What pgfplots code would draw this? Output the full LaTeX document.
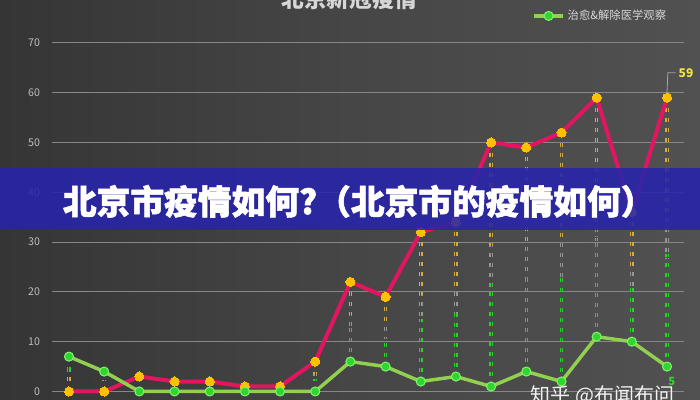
\documentclass[border=0pt]{standalone}
\usepackage{fontspec}
\setmainfont{Noto Sans CJK SC}
\newfontfamily\heavyfont{Noto Sans CJK SC}[BoldFeatures={FakeBold=1.6}]
\usepackage{pgfplots}
\usepackage{pgfplotstable}
\pgfplotsset{compat=1.18}

\definecolor{bgA}{RGB}{36,36,36}
\definecolor{bgB}{RGB}{70,70,70}
\definecolor{bgC}{RGB}{84,84,84}
\definecolor{bgD}{RGB}{56,56,56}
\pgfdeclarehorizontalshading{bgshade}{100bp}{color(0bp)=(bgA); color(50bp)=(bgB); color(82bp)=(bgC); color(100bp)=(bgD)}

\definecolor{newred}{RGB}{226,22,96}
\definecolor{newmark}{RGB}{255,192,0}
\definecolor{curedline}{RGB}{146,208,80}
\definecolor{curedmark}{RGB}{46,214,46}
\definecolor{curedglow}{RGB}{130,240,110}
\definecolor{dropyellow}{RGB}{214,170,60}
\definecolor{dropgrey}{RGB}{150,150,150}
\definecolor{dropgreen}{RGB}{40,210,40}
\definecolor{gridgrey}{RGB}{135,135,135}
\definecolor{ticktext}{RGB}{190,190,190}
\definecolor{titlegrey}{RGB}{215,215,215}
\definecolor{banner}{RGB}{40,36,172}
\definecolor{lblyellow}{RGB}{240,228,70}

% 新增 / 治愈 (idx 16 of "new" is hidden behind the banner, estimated)
\pgfplotstableread{
x  new cured
0  0   7
1  0   4
2  3   0
3  2   0
4  2   0
5  1   0
6  1   0
7  6   0
8  22  6
9  19  5
10 32  2
11 34  3
12 50  1
13 49  4
14 52  2
15 59  11
16 36  10
17 59  5
}\data

\pgfplotsset{
  drop/.style={forget plot, line width=0.95pt, no markers, dash pattern=on 3pt off 4.5pt},
  dropup/.style={quiver={u=0, v=\thisrow{cured}-\thisrow{new}, scale arrows=#1,
      every arrow/.append style={-}}},
  dropdown/.style={quiver={u=0, v=\thisrow{new}-\thisrow{cured}, scale arrows=#1,
      every arrow/.append style={-}}},
}

\begin{document}
\begin{tikzpicture}
\clip (0,0) rectangle (525pt,300pt);
\shade[shading=bgshade] (0,0) rectangle (525pt,300pt);

\begin{axis}[
    at={(39pt,6.4pt)}, anchor=south west,
    scale only axis,
    width=474pt, height=261.4pt,
    xmin=-0.483, xmax=17.483,
    ymin=0, ymax=70,
    ytick={0,10,...,70},
    xtick=\empty,
    axis line style={draw=none},
    major tick length=0pt,
    ymajorgrids=true,
    grid style={gridgrey, line width=0.8pt},
    yticklabel style={text=ticktext, font=\fontsize{8}{9}\selectfont, anchor=east, xshift=-5.5pt},
    /pgf/number format/assume math mode=true,
    clip=false,
    legend style={draw=none, fill=none, at={(0.7595,1.0775)}, anchor=west,
        inner sep=0pt, text=titlegrey, font=\fontsize{8.5}{10}\selectfont},
    legend image code/.code={\draw[mark repeat=2, mark phase=2, #1]
        plot coordinates {(0pt,0pt) (11pt,0pt) (22pt,0pt)};},
]

% high-low lines, two thin dashed strokes each: yellow at the upper end, green at the lower end
\addplot[drop, dropgrey, dropup=0.6, xshift=-0.85pt] table[x=x, y=new]{\data};
\addplot[drop, dropgrey, dropup=0.6, xshift=0.85pt] table[x=x, y=new]{\data};
\addplot[drop, dropyellow, dropup=0.42, xshift=-0.85pt] table[x=x, y=new]{\data};
\addplot[drop, dropyellow, dropup=0.42, xshift=0.85pt] table[x=x, y=new]{\data};
\addplot[drop, dropgreen, dropdown=0.42, xshift=-0.85pt] table[x=x, y=cured]{\data};
\addplot[drop, dropgreen, dropdown=0.42, xshift=0.85pt] table[x=x, y=cured]{\data};

\addplot[forget plot, newred, line width=3pt, line join=round,
    mark=*, mark size=3.4pt, mark options={fill=newmark, draw=newmark, line width=0pt}]
    table[x=x, y=new]{\data};

\addplot[curedline, line width=2.6pt, line join=round,
    mark=*, mark size=3.4pt, mark options={fill=curedmark, draw=curedglow, line width=0.8pt}]
    table[x=x, y=cured]{\data};
\addlegendentry{治愈\&解除医学观察}

\draw[gray!70!white, line width=0.6pt] ([yshift=3.6pt]axis cs:17,59)
    -- ([xshift=0.6pt, yshift=18.75pt]axis cs:17,59)
    -- ([xshift=6.5pt, yshift=18.75pt]axis cs:17,59);
\node[anchor=west, inner sep=0pt, text=lblyellow, font=\bfseries\fontsize{9}{10}\selectfont]
    at ([xshift=8.6pt, yshift=18.75pt]axis cs:17,59) {59};
\node[inner sep=0pt, text=curedmark, font=\bfseries\fontsize{8.5}{10}\selectfont]
    at ([xshift=3.6pt, yshift=-11pt]axis cs:17,5) {5};
\end{axis}

\node[anchor=base, text=titlegrey, font=\bfseries\fontsize{17}{20}\selectfont]
    at (262pt,294.5pt) {北京新冠疫情};

\fill[banner, opacity=0.88] (0,127.5pt) rectangle (525pt,174pt);
\node[anchor=west, inner sep=0pt, text=white, font=\heavyfont\bfseries\fontsize{25.3}{28}\selectfont]
    at (47pt,149pt) {北京市疫情如何?（北京市的疫情如何）};

\node[anchor=base west, inner sep=0pt, text=white!90!gray, font=\fontsize{15}{17}\selectfont]
    at (398pt,-1.8pt) {知乎 @布闻布问};
\end{tikzpicture}
\end{document}
